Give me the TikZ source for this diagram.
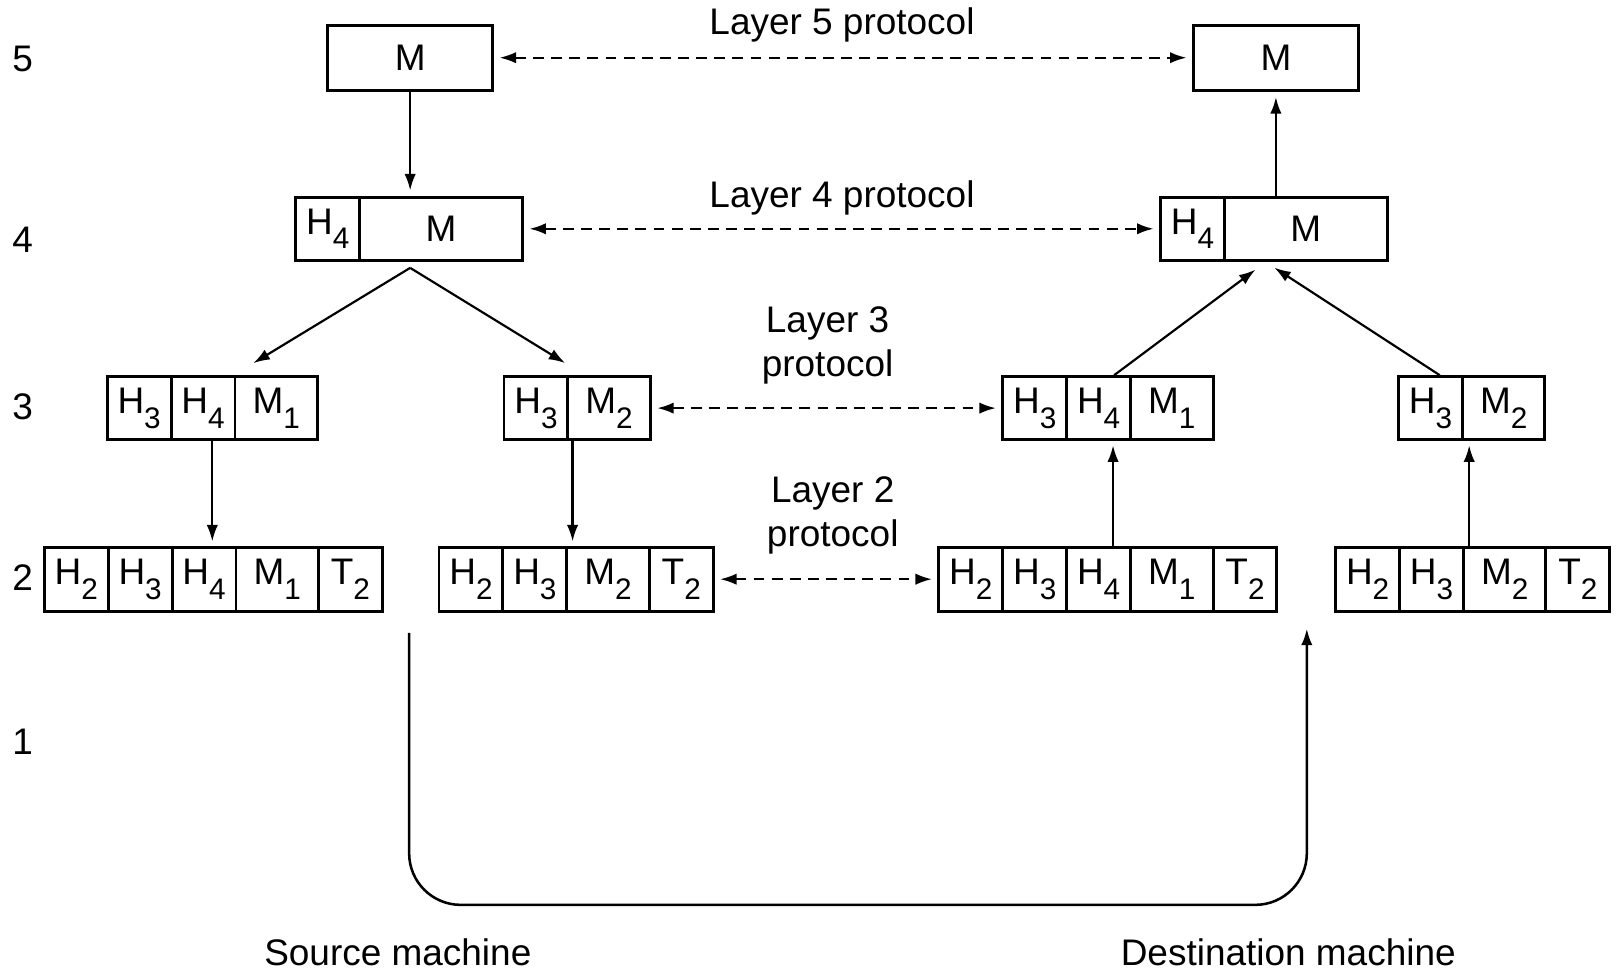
\documentclass[tikz,border=0pt]{standalone}
\usepackage{fontspec}
\setmainfont{Liberation Sans}
\usepackage{tikz}
\usetikzlibrary{arrows.meta}
\newcommand{\lsub}[1]{\raisebox{-0.75ex}{\fontsize{8.2}{9}\selectfont #1}}

\begin{document}
\begin{tikzpicture}[x=0.01cm,y=0.01cm,font=\fontsize{10.2}{12.2}\selectfont,
  cell/.style={draw,line width=0.8pt,rectangle,inner sep=0pt,minimum height=0.61cm},
  arr/.style={-{Latex[length=1.6mm,width=1.1mm]},line width=0.6pt},
  peer/.style={{Latex[length=1.6mm,width=1.1mm]}-{Latex[length=1.6mm,width=1.1mm]},dash pattern=on 3pt off 2pt,line width=0.6pt,shorten <=1.5pt,shorten >=1.5pt}]
\useasboundingbox (0,0) rectangle (1568,942);
% layer numbers
\foreach \y/\1 in %
{885/5,709/4,547/3,382/2,222/1} {
   \node (lay\1) at (22,\y) {\1};
}
% layer 5
\node[cell,minimum width=1.6cm,minimum height=0.63cm] (s5) at (398,886) {M};
\node[cell,minimum width=1.6cm,minimum height=0.63cm] (d5) at (1238,886) {M};
% layer 4
\foreach \x/\w/\txt/\nm in {318/0.62/H\lsub{4}/s4h,428/1.58/M/s4m,1157/0.62/H\lsub{4}/d4h,1267/1.58/M/d4m} {
   \node[cell,minimum width=\w cm] (\nm) at (\x,720) {\txt};
}
% layer 3
\foreach \x/\w/\txt/\nm in {135/0.62/H\lsub{3}/s3a1,197/0.62/H\lsub{4}/s3a2,268/0.8/M\lsub{1}/s3a3,
   520/0.62/H\lsub{3}/s3b1,591/0.8/M\lsub{2}/s3b2,
   1004/0.62/H\lsub{3}/d3a1,1066/0.62/H\lsub{4}/d3a2,1137/0.8/M\lsub{1}/d3a3,
   1388/0.62/H\lsub{3}/d3b1,1459/0.8/M\lsub{2}/d3b2} {
   \node[cell,minimum width=\w cm] (\nm) at (\x,546) {\txt};
}
% layer 2
\foreach \x/\w/\txt/\nm in {74/0.62/H\lsub{2}/s2a1,136/0.62/H\lsub{3}/s2a2,198/0.62/H\lsub{4}/s2a3,269/0.8/M\lsub{1}/s2a4,340/0.62/T\lsub{2}/s2a5,
   457/0.62/H\lsub{2}/s2b1,519/0.62/H\lsub{3}/s2b2,590/0.8/M\lsub{2}/s2b3,661/0.62/T\lsub{2}/s2b4,
   942/0.62/H\lsub{2}/d2a1,1004/0.62/H\lsub{3}/d2a2,1066/0.62/H\lsub{4}/d2a3,1137/0.8/M\lsub{1}/d2a4,1208/0.62/T\lsub{2}/d2a5,
   1327/0.62/H\lsub{2}/d2b1,1389/0.62/H\lsub{3}/d2b2,1460/0.8/M\lsub{2}/d2b3,1531/0.62/T\lsub{2}/d2b4} {
   \node[cell,minimum width=\w cm,minimum height=0.62cm] (\nm) at (\x,380) {\txt};
}
% protocol labels
\node (p5) at (817,918) {Layer 5 protocol};
\node (p4) at (817,750) {Layer 4 protocol};
\node[align=center] (p3) at (803,607) {Layer 3\\protocol};
\node[align=center] (p2) at (808,442) {Layer 2\\protocol};
\node (src) at (386,18) {Source machine};
\node (dst) at (1250,18) {Destination machine};
% peer arrows
\draw[peer] (s5) -- (d5);
\draw[peer] (s4m) -- (d4h);
\draw[peer] (s3b2) -- (d3a1);
\draw[peer] (s2b4) -- (d2a1);
% down the source side
\draw[arr,shorten >=1.5pt] (s5.south) -- (s5.south |- s4m.north);
\coordinate (fork4) at ([yshift=-0.06cm]s5.south |- s4m.south);
\draw[arr,shorten >=6.4pt] (fork4) -- (s3a3.north west);
\draw[arr,shorten >=6.4pt] (fork4) -- ([xshift=0.18cm]s3b2.north west);
\draw[arr,shorten >=1.2pt] ([xshift=0.09cm]s3a2.south) -- ([xshift=0.09cm]s3a2.south |- s2a3.north);
\draw[arr,shorten >=1.2pt] ([xshift=0.06cm]s3b2.south west) -- ([xshift=0.06cm]s3b2.south west |- s2b3.north);
% up the destination side
\draw[arr,shorten >=1.2pt] ([xshift=0.14cm]d2a3.north) -- ([xshift=0.14cm]d2a3.north |- d3a2.south);
\draw[arr,shorten >=1.2pt] ([xshift=0.07cm]d2b3.north west) -- ([xshift=0.07cm]d2b3.north west |- d3b2.south);
\draw[arr,shorten >=3.7pt] ([xshift=0.15cm]d3a2.north) -- ([xshift=0.42cm]d4m.south west);
\draw[arr,shorten >=3pt] ([xshift=0.09cm]d3b1.north) -- ([xshift=0.41cm]d4m.south west);
\draw[arr,shorten >=1.5pt] (d5.south |- d4m.north) -- (d5.south);
% physical medium
\coordinate (wireS) at (397,328);
\coordinate (wireD) at (1268,332);
\draw[arr,line width=0.7pt,rounded corners=0.5cm] (wireS) -- (wireS |- 0,64) -- (wireD |- 0,64) -- (wireD);
\end{tikzpicture}
\end{document}
